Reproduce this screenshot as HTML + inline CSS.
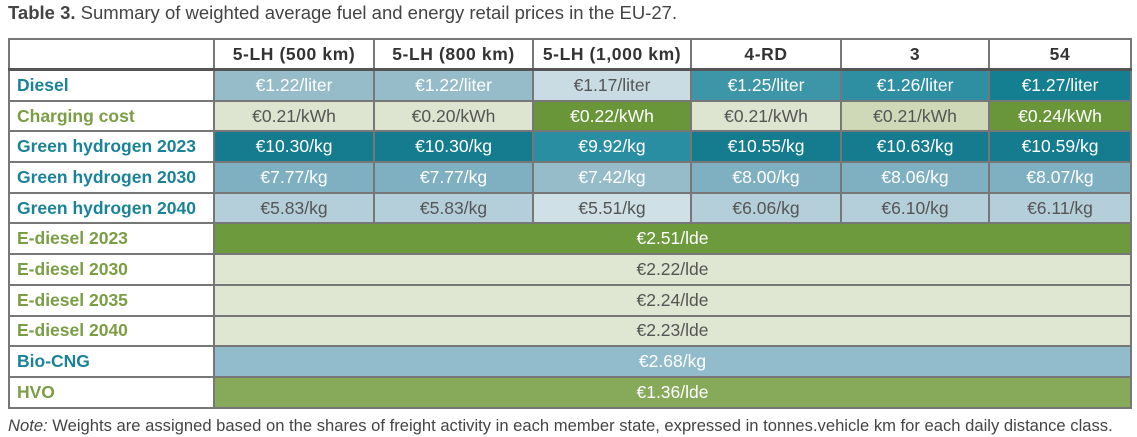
<!DOCTYPE html>
<html><head><meta charset="utf-8"><style>
body{margin:0;width:1137px;height:437px;background:#fff;font-family:"Liberation Sans",sans-serif;overflow:hidden;position:relative}
.t{position:absolute;left:8px;top:2px;font-size:18.5px;color:#444;white-space:nowrap}
table{position:absolute;left:8px;top:38px;border-collapse:collapse;table-layout:fixed;width:1122px}
td{border:2px solid #777;height:28.7px;padding:0;text-align:center;font-size:17.5px;color:#555;white-space:nowrap}
th{border:2px solid #777;height:26px;font-size:17.5px;color:#333;font-weight:bold;background:#fff;white-space:nowrap;letter-spacing:0.6px}
tr.h th{border-bottom:3px solid #555}
td.l{text-align:left;padding-left:7px;font-weight:bold;background:#fff;font-size:17.5px}
.b{color:#1a8397}.g{color:#7a9e44}
.w{color:#fff}
.note{position:absolute;left:8px;top:416px;font-size:16.6px;color:#444;white-space:nowrap}
</style></head><body>
<div class="t"><b>Table 3.</b> Summary of weighted average fuel and energy retail prices in the EU-27.</div>
<table>
<colgroup><col style="width:205px"><col style="width:160px"><col style="width:159px"><col style="width:158px"><col style="width:150px"><col style="width:148px"><col style="width:142px"></colgroup>
<tr class="h"><th></th><th>5-LH (500 km)</th><th>5-LH (800 km)</th><th>5-LH (1,000 km)</th><th>4-RD</th><th>3</th><th>54</th></tr>
<tr><td class="l b">Diesel</td><td class="w" style="background:#96bcca">€1.22/liter</td><td class="w" style="background:#96bcca">€1.22/liter</td><td style="background:#c9dce3">€1.17/liter</td><td class="w" style="background:#3d95a8">€1.25/liter</td><td class="w" style="background:#2e8ea2">€1.26/liter</td><td class="w" style="background:#157f92">€1.27/liter</td></tr>
<tr><td class="l g">Charging cost</td><td style="background:#dde5d0">€0.21/kWh</td><td style="background:#dde5d0">€0.20/kWh</td><td class="w" style="background:#6a963a">€0.22/kWh</td><td style="background:#dde5d0">€0.21/kWh</td><td style="background:#cfd9b8">€0.21/kWh</td><td class="w" style="background:#6a963a">€0.24/kWh</td></tr>
<tr><td class="l b">Green hydrogen 2023</td><td class="w" style="background:#147c8e">€10.30/kg</td><td class="w" style="background:#147c8e">€10.30/kg</td><td class="w" style="background:#2a8ea3">€9.92/kg</td><td class="w" style="background:#147c8e">€10.55/kg</td><td class="w" style="background:#147c8e">€10.63/kg</td><td class="w" style="background:#147c8e">€10.59/kg</td></tr>
<tr><td class="l b">Green hydrogen 2030</td><td class="w" style="background:#7fb0c2">€7.77/kg</td><td class="w" style="background:#7fb0c2">€7.77/kg</td><td class="w" style="background:#96bcca">€7.42/kg</td><td class="w" style="background:#7fb0c2">€8.00/kg</td><td class="w" style="background:#7fb0c2">€8.06/kg</td><td class="w" style="background:#7fb0c2">€8.07/kg</td></tr>
<tr><td class="l b">Green hydrogen 2040</td><td style="background:#b4cfd9">€5.83/kg</td><td style="background:#b4cfd9">€5.83/kg</td><td style="background:#cfe0e6">€5.51/kg</td><td style="background:#b4cfd9">€6.06/kg</td><td style="background:#b4cfd9">€6.10/kg</td><td style="background:#b4cfd9">€6.11/kg</td></tr>
<tr><td class="l g">E-diesel 2023</td><td colspan="6" class="w" style="background:#6c9a3c">€2.51/lde</td></tr>
<tr><td class="l g">E-diesel 2030</td><td colspan="6" style="background:#dfe6d2">€2.22/lde</td></tr>
<tr><td class="l g">E-diesel 2035</td><td colspan="6" style="background:#dfe6d2">€2.24/lde</td></tr>
<tr><td class="l g">E-diesel 2040</td><td colspan="6" style="background:#dfe6d2">€2.23/lde</td></tr>
<tr><td class="l b">Bio-CNG</td><td colspan="6" class="w" style="background:#92bccb">€2.68/kg</td></tr>
<tr><td class="l g">HVO</td><td colspan="6" class="w" style="background:#87a95a">€1.36/lde</td></tr>
</table>
<div class="note"><i>Note:</i> Weights are assigned based on the shares of freight activity in each member state, expressed in tonnes.vehicle km for each daily distance class.</div>
</body></html>
